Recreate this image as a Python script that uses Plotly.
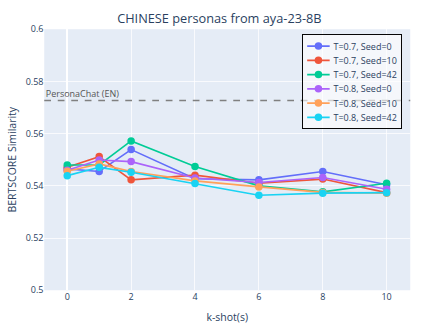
import plotly.graph_objects as go

k_shots = [0, 1, 2, 4, 6, 8, 10]
series_names = ["T=0.7, Seed=0", "T=0.7, Seed=10", "T=0.7, Seed=42",
                "T=0.8, Seed=0", "T=0.8, Seed=10", "T=0.8, Seed=42"]
t07_s0 = [0.5465, 0.5455, 0.5539, 0.5427, 0.5423, 0.5455, 0.5404]
t07_s10 = [0.5471, 0.5512, 0.5423, 0.5441, 0.5410, 0.5426, 0.5374]
t07_s42 = [0.5480, 0.5480, 0.5572, 0.5474, 0.5400, 0.5377, 0.5410]
t08_s0 = [0.5460, 0.5499, 0.5493, 0.5430, 0.5413, 0.5432, 0.5387]
t08_s10 = [0.5456, 0.5484, 0.5455, 0.5419, 0.5396, 0.5375, 0.5372]
t08_s42 = [0.5439, 0.5471, 0.5452, 0.5409, 0.5364, 0.5372, 0.5374]
baseline_value = 0.5727
baseline_label = "PersonaChat (EN)"

colors = ["#636EFA", "#EF553B", "#00CC96", "#AB63FA", "#FFA15A", "#19D3F3"]
all_series = [t07_s0, t07_s10, t07_s42, t08_s0, t08_s10, t08_s42]

fig = go.Figure()
for name, vals, c in zip(series_names, all_series, colors):
    fig.add_trace(go.Scatter(x=k_shots, y=vals, mode="lines+markers", name=name,
                             line=dict(color=c, width=2.2), marker=dict(size=10, color=c)))

fig.add_hline(y=baseline_value, line=dict(color="gray", dash="dash", width=2))
fig.add_annotation(x=0, xref="paper", xanchor="left", y=baseline_value, yanchor="bottom",
                   text=baseline_label, showarrow=False, font=dict(size=12, color="#555"),
                   xshift=0, yshift=-1)

fig.update_layout(
    width=585, height=438,
    template="plotly",
    margin=dict(l=59, r=38, t=39, b=51, autoexpand=False),
    title=dict(text="CHINESE personas from aya-23-8B", x=0.5, xanchor="center",
               y=0.945, yanchor="middle",
               font=dict(size=17, color="#2a3f5f")),
    xaxis=dict(title=dict(text="k-shot(s)", font=dict(size=14)), range=[-0.72, 10.74],
               tickvals=[0, 2, 4, 6, 8, 10], tickfont=dict(size=12), automargin=False),
    yaxis=dict(title=dict(text="BERTSCORE Similarity", font=dict(size=14), standoff=8),
               range=[0.5, 0.6], dtick=0.02, tickfont=dict(size=12), automargin=True),
    legend=dict(x=0.978, xanchor="right", y=0.981, yanchor="top",
                bgcolor="rgba(255,255,255,0.6)", bordercolor="black", borderwidth=1.3,
                font=dict(size=12)),
)

fig.write_html("out.html", config={"displayModeBar": False},
               post_script="document.body.style.margin='0';document.body.style.zoom='0.75';")
